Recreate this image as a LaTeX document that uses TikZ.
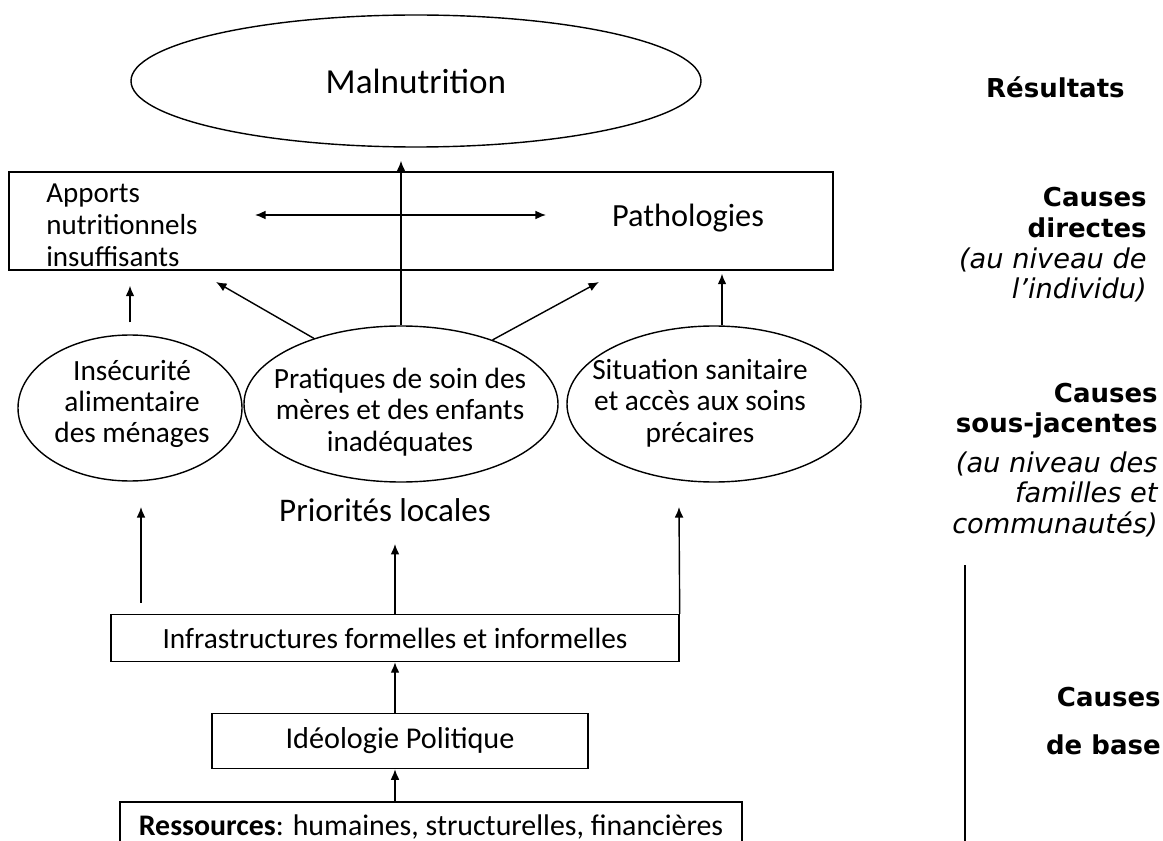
\documentclass[tikz,border=0pt]{standalone}
\usepackage{fontspec}
\setmainfont{Carlito}
\newfontfamily\verdana{DejaVu Sans}
\usetikzlibrary{arrows.meta,calc,shapes.geometric}
\newlength\pu
\setlength\pu{0.02cm}
\tikzset{
  fleche/.style={-{Latex[length=6pt,width=5pt]}, line width=0.8pt},
  bulle/.style={draw, ellipse, line width=0.8pt, inner sep=0pt},
  boite/.style={draw, rectangle, line width=0.8pt, inner sep=0pt},
  texte/.style={font=\fontsize{16.7}{17.8}\selectfont, align=center, inner sep=0pt},
  niveau/.style={font=\verdana\fontsize{14.8}{17.4}\selectfont, align=right, inner sep=0pt, anchor=east}
}
\newcommand{\precis}[1]{{\fontsize{15.5}{17.8}\selectfont\itshape #1}}

\begin{document}
\begin{tikzpicture}[x=\pu, y=-\pu]
\useasboundingbox (0,0) rectangle (1163,841);
%--- resultat ---
\node[bulle, minimum width=570\pu, minimum height=132\pu, font=\fontsize{20}{24}\selectfont] (malnut) at (416,81) {Malnutrition};
%--- causes directes ---
\node[boite, minimum width=824\pu, minimum height=98\pu] (directes) at (421,221) {};
\node[texte, align=left, anchor=west, font=\fontsize{16.5}{18.2}\selectfont] (apports) at (46,225) {Apports\\nutritionnels\\insuffisants};
\node[texte, font=\fontsize{18.4}{20}\selectfont] (patho) at (688,218) {Pathologies};
\coordinate (fg) at (255,215);
\coordinate (fd) at (546,215);
\draw[fleche, {Latex[length=6pt,width=5pt]}-{Latex[length=6pt,width=5pt]}] (fg) -- (fd);
%--- causes sous-jacentes ---
\node[bulle, minimum width=224\pu, minimum height=146\pu] (insec) at (130,408) {};
\node[texte] (insectxt) at (132,404) {Insécurité\\alimentaire\\des ménages};
\node[bulle, minimum width=314\pu, minimum height=156\pu] (prat) at (401,404) {};
\node[texte] (prattxt) at (400,412) {Pratiques de soin des\\mères et des enfants\\inadéquates};
\node[bulle, minimum width=294\pu, minimum height=156\pu] (sanit) at (714,404) {};
\node[texte] (sanittxt) at (700,403) {Situation sanitaire\\et accès aux soins\\précaires};
\node[texte, font=\fontsize{18.8}{20}\selectfont] (prior) at (385,510) {Priorités locales};
% fleches vers le haut
\coordinate (pg) at (216,282);
\coordinate (pd) at (599,282);
\draw[fleche, shorten <=12\pu, shorten >=15\pu] (insec.north) -- (insec.north |- directes.south);
\draw[fleche] (prat.143) -- (pg);
\draw[fleche] (prat.35) -- (pd);
\draw[fleche, shorten >=13\pu] (prat.north) -- (prat.north |- malnut.south);
\draw[fleche, shorten >=3\pu] ([xshift=8\pu]sanit.north) -- ([xshift=8\pu]sanit.north |- directes.south);
%--- causes de base ---
\node[boite, minimum width=568\pu, minimum height=47\pu, texte] (infra) at (395,638) {Infrastructures formelles et informelles};
\node[boite, minimum width=376\pu, minimum height=55\pu, texte, font=\fontsize{17.2}{18}\selectfont] (ideo) at (400,741) {Idéologie Politique};
\node[boite, minimum width=622\pu, minimum height=50\pu, texte, font=\fontsize{17}{18}\selectfont] (ress) at (431,827) {\textbf{Ressources}: humaines, structurelles, financières};
\coordinate (tg) at (141,507);
\coordinate (td) at (679,507);
\draw[fleche, shorten <=11\pu] (tg |- infra.north) -- (tg);
\draw[fleche, shorten >=22\pu] (infra.north) -- (infra.north |- prior.south);
\draw[fleche] (infra.north east) -- (td);
\draw[fleche] (infra.south |- ideo.north) -- (infra.south);
\draw[fleche] (infra.south |- ress.north) -- (infra.south |- ideo.south);
%--- niveaux ---
\node[niveau] (resultats) at (1125,87) {\textbf{Résultats}};
\node[niveau] (niv1) at (1147,245) {\textbf{Causes}\\\textbf{directes}\\\precis{(au niveau de}\\\precis{l’individu)}};
\node[niveau] (niv2) at (1158,460) {\textbf{Causes}\\\textbf{sous-jacentes}\\[5pt]\precis{(au niveau des}\\\precis{familles et}\\\precis{communautés)}};
\draw[line width=0.8pt] (965,565) -- (965,841);
\node[niveau] (niv3) at (1161,721) {\textbf{Causes}\\[10pt]\textbf{de base}};
\end{tikzpicture}
\end{document}
